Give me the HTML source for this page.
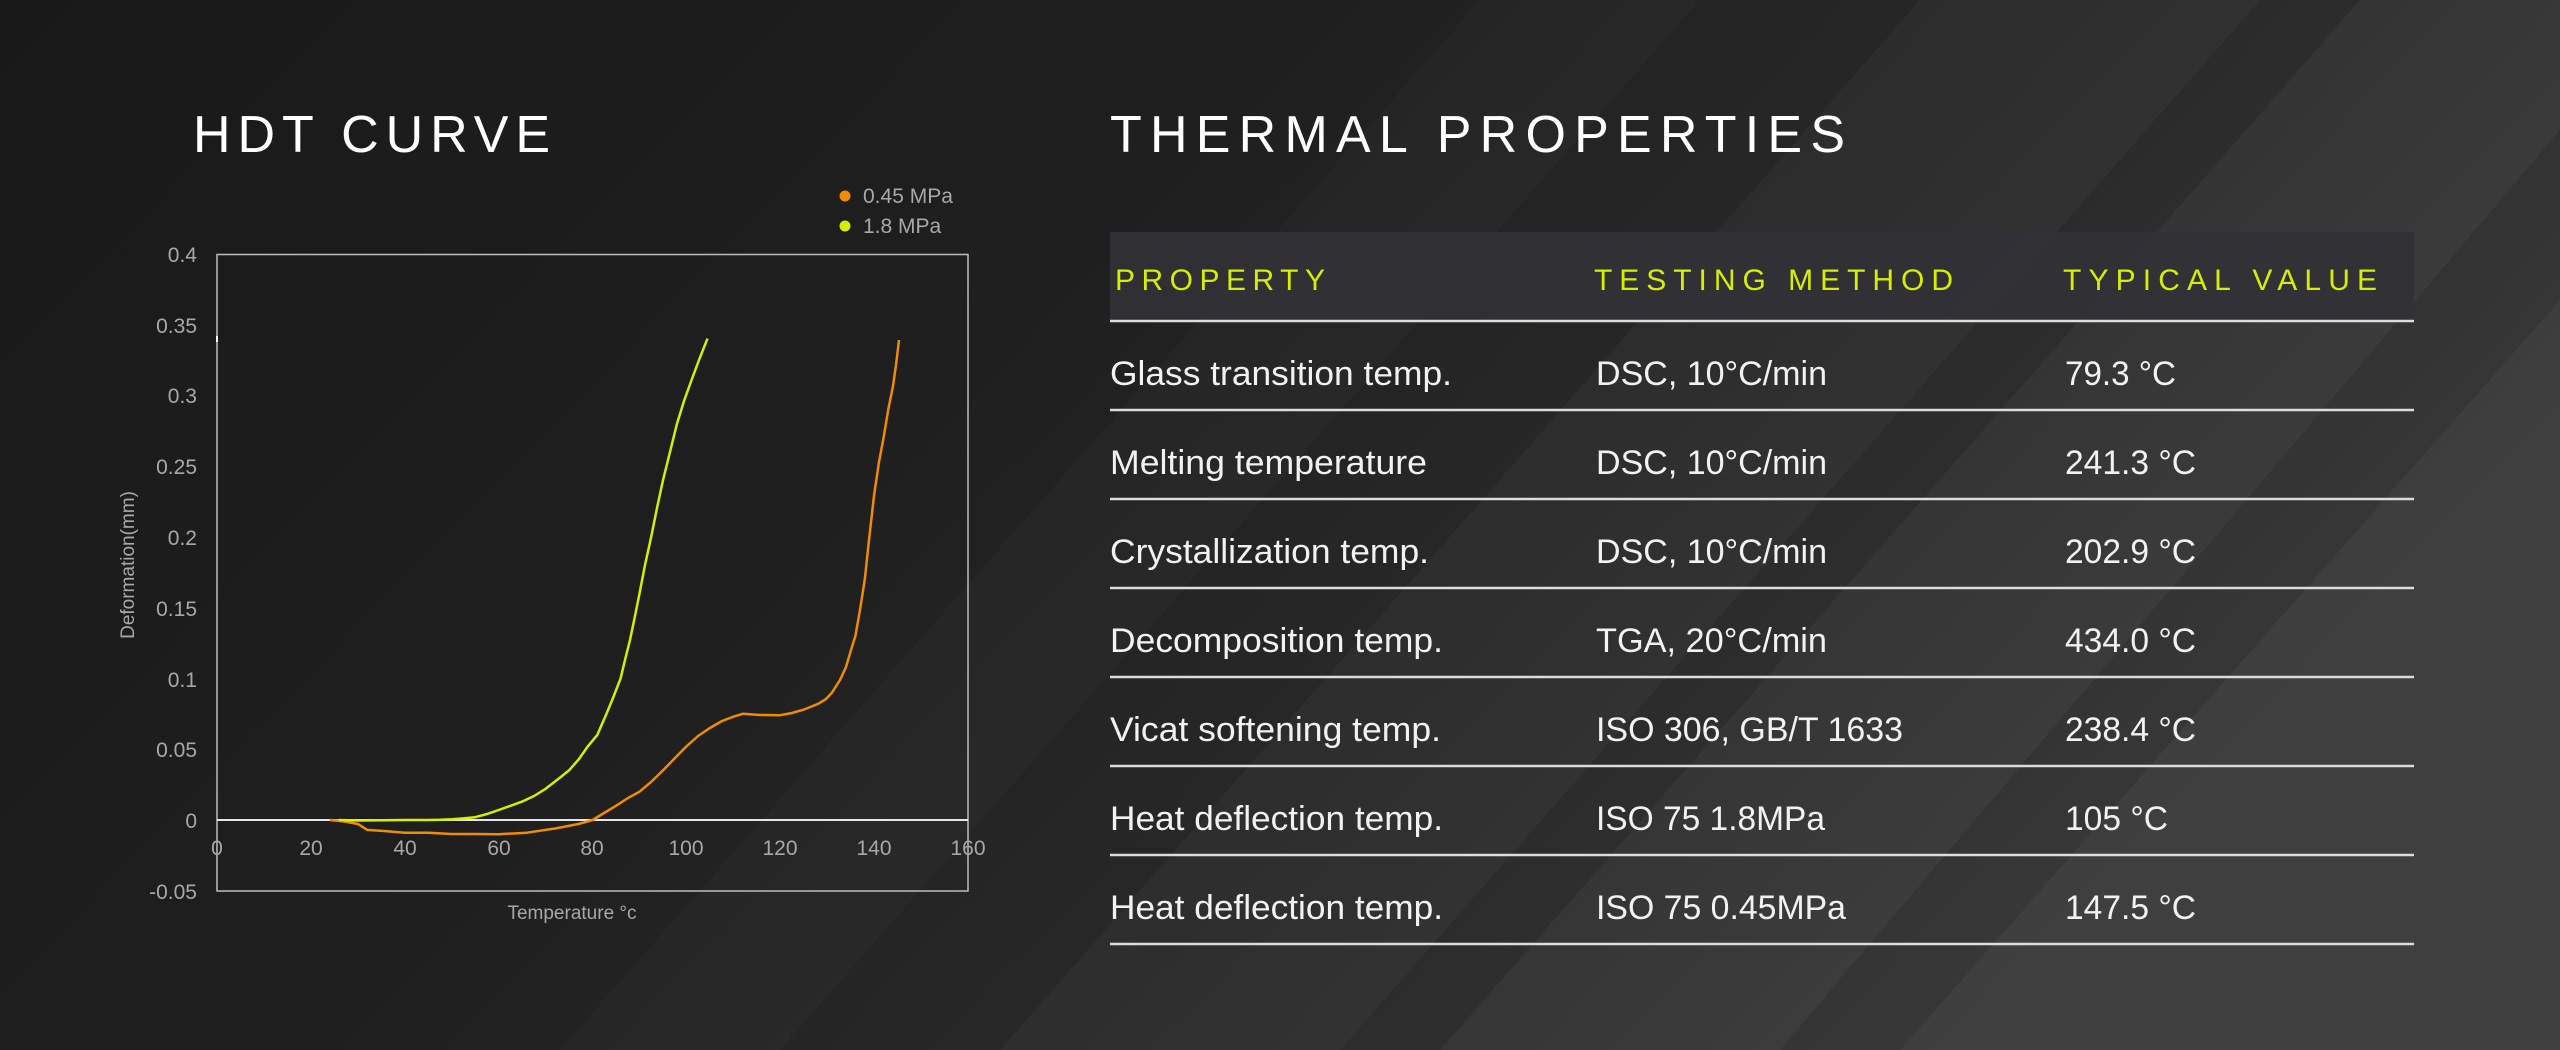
<!DOCTYPE html>
<html><head><meta charset="utf-8"><style>
html,body{margin:0;padding:0;background:#1c1c1c;}
svg{display:block;}
</style></head><body>
<svg width="2560" height="1050" viewBox="0 0 2560 1050" xmlns="http://www.w3.org/2000/svg" font-family="'Liberation Sans', sans-serif">
<defs>
<linearGradient id="bg" x1="0" y1="0" x2="1" y2="0.4">
<stop offset="0" stop-color="#191919"/>
<stop offset="0.45" stop-color="#1f1f1f"/>
<stop offset="0.75" stop-color="#2a2a2a"/>
<stop offset="1" stop-color="#383838"/>
</linearGradient>
</defs>
<rect width="2560" height="1050" fill="url(#bg)"/>
<g fill="#ffffff">
<polygon points="560,1050 1480,0 1700,0 780,1050" opacity="0.02"/>
<polygon points="1000,1050 1920,0 2260,0 1340,1050" opacity="0.03"/>
<polygon points="1440,1050 2360,0 2560,0 2560,130 1780,1050" opacity="0.035"/>
<polygon points="1900,1050 2560,300 2560,1050" opacity="0.04"/>
</g>

<text x="193" y="152" font-size="52" fill="#ffffff" textLength="357" lengthAdjust="spacing">HDT CURVE</text>
<text x="1110" y="152" font-size="52" fill="#ffffff" textLength="735" lengthAdjust="spacing">THERMAL PROPERTIES</text>

<circle cx="845" cy="196" r="5.5" fill="#f08c00"/>
<text x="863" y="203" font-size="21" fill="#a8a8a8">0.45 MPa</text>
<circle cx="845" cy="226" r="5.5" fill="#d4ef00"/>
<text x="863" y="233" font-size="21" fill="#a8a8a8">1.8 MPa</text>

<rect x="217" y="254.5" width="751" height="636.5" fill="none" stroke="#bdbdbd" stroke-width="1.5"/>
<line x1="217" y1="820" x2="968" y2="820" stroke="#e6e6e6" stroke-width="2"/>
<line x1="217" y1="336" x2="217" y2="342" stroke="#ffffff" stroke-width="2"/>

<g font-size="21" fill="#a8a8a8" text-anchor="end">
<text x="197" y="262">0.4</text>
<text x="197" y="333">0.35</text>
<text x="197" y="403">0.3</text>
<text x="197" y="474">0.25</text>
<text x="197" y="545">0.2</text>
<text x="197" y="616">0.15</text>
<text x="197" y="687">0.1</text>
<text x="197" y="757">0.05</text>
<text x="197" y="828">0</text>
<text x="197" y="899">-0.05</text>
</g>
<g font-size="21" fill="#a8a8a8" text-anchor="middle">
<text x="217" y="855">0</text>
<text x="311" y="855">20</text>
<text x="405" y="855">40</text>
<text x="499" y="855">60</text>
<text x="592" y="855">80</text>
<text x="686" y="855">100</text>
<text x="780" y="855">120</text>
<text x="874" y="855">140</text>
<text x="968" y="855">160</text>
</g>
<text x="572" y="919" font-size="19" fill="#a8a8a8" text-anchor="middle">Temperature  °c</text>
<text transform="translate(134,565) rotate(-90)" font-size="19" fill="#a8a8a8" text-anchor="middle">Deformation(mm)</text>

<polyline fill="none" stroke="#f08c00" stroke-width="2.5" stroke-linejoin="round" points="
329.7,820 343.8,821.4 358,824 367.3,829.9 380,830.7 404.8,832.7 428.3,832.7 451.7,834 475.2,834 498.7,834.2 526.9,832.7 555,828.5 578.5,824 592.6,820 604,813 616,805.8 628,798 639.5,791.7 651,782 663,770.4 675,758 686.4,746.4 698,736 709.9,728 722,721 733.4,716.7 742.8,713.8 760,715 780.3,715.2 792,713 803.8,709.6 818,703.9 826,699 832,692.6 840,680 846,667 851,650 855.4,636 860,610 864.8,579.2 869,540 874.2,494.2 879,462 883.6,437.6 888.3,409.3 892.9,386.6 896,365 899,340"/>
<polyline fill="none" stroke="#d4ef00" stroke-width="2.5" stroke-linejoin="round" points="
339,820 358,820.5 382,820.3 405,820 428.3,820 440,819.8 451.7,819.3 463,818.4 475.2,817.2 487,814 498.7,810 510,806 522.1,801.6 534,796 545.6,788.8 557,780 569,770.4 579,759 587.8,746.4 597.2,735.1 606.5,713.8 613,698 620.6,678.4 625,660 630,640 635,616 639.5,593.5 645,565 651.2,536.8 657,508 663,480.2 670,452 677,423.6 684,401 691.2,381 699,360 707.5,338.6"/>

<rect x="1110" y="232" width="1304" height="89" fill="#313136" opacity="0.92"/>
<g font-size="30" fill="#d4ef00">
<text x="1115" y="290" textLength="210" lengthAdjust="spacing">PROPERTY</text>
<text x="1594" y="290" textLength="359" lengthAdjust="spacing">TESTING METHOD</text>
<text x="2063" y="290" textLength="314" lengthAdjust="spacing">TYPICAL VALUE</text>
</g>
<g stroke="#dcdcdc" stroke-width="2.5">
<line x1="1110" y1="321" x2="2414" y2="321"/>
<line x1="1110" y1="410" x2="2414" y2="410"/>
<line x1="1110" y1="499" x2="2414" y2="499"/>
<line x1="1110" y1="588" x2="2414" y2="588"/>
<line x1="1110" y1="677" x2="2414" y2="677"/>
<line x1="1110" y1="766" x2="2414" y2="766"/>
<line x1="1110" y1="855" x2="2414" y2="855"/>
<line x1="1110" y1="944" x2="2414" y2="944"/>
</g>
<g font-size="34" fill="#f2f2f2">
<text x="1110" y="385" textLength="342" lengthAdjust="spacingAndGlyphs">Glass transition temp.</text>
<text x="1596" y="385" textLength="231" lengthAdjust="spacingAndGlyphs">DSC, 10°C/min</text>
<text x="2065" y="385" textLength="111" lengthAdjust="spacingAndGlyphs">79.3 °C</text>

<text x="1110" y="474" textLength="317" lengthAdjust="spacingAndGlyphs">Melting temperature</text>
<text x="1596" y="474" textLength="231" lengthAdjust="spacingAndGlyphs">DSC, 10°C/min</text>
<text x="2065" y="474" textLength="131" lengthAdjust="spacingAndGlyphs">241.3 °C</text>

<text x="1110" y="563" textLength="319" lengthAdjust="spacingAndGlyphs">Crystallization temp.</text>
<text x="1596" y="563" textLength="231" lengthAdjust="spacingAndGlyphs">DSC, 10°C/min</text>
<text x="2065" y="563" textLength="131" lengthAdjust="spacingAndGlyphs">202.9 °C</text>

<text x="1110" y="652" textLength="333" lengthAdjust="spacingAndGlyphs">Decomposition temp.</text>
<text x="1596" y="652" textLength="231" lengthAdjust="spacingAndGlyphs">TGA, 20°C/min</text>
<text x="2065" y="652" textLength="131" lengthAdjust="spacingAndGlyphs">434.0 °C</text>

<text x="1110" y="741" textLength="331" lengthAdjust="spacingAndGlyphs">Vicat softening temp.</text>
<text x="1596" y="741" textLength="307" lengthAdjust="spacingAndGlyphs">ISO 306, GB/T 1633</text>
<text x="2065" y="741" textLength="131" lengthAdjust="spacingAndGlyphs">238.4 °C</text>

<text x="1110" y="830" textLength="333" lengthAdjust="spacingAndGlyphs">Heat deflection temp.</text>
<text x="1596" y="830" textLength="229" lengthAdjust="spacingAndGlyphs">ISO 75 1.8MPa</text>
<text x="2065" y="830" textLength="103" lengthAdjust="spacingAndGlyphs">105 °C</text>

<text x="1110" y="919" textLength="333" lengthAdjust="spacingAndGlyphs">Heat deflection temp.</text>
<text x="1596" y="919" textLength="250" lengthAdjust="spacingAndGlyphs">ISO 75 0.45MPa</text>
<text x="2065" y="919" textLength="131" lengthAdjust="spacingAndGlyphs">147.5 °C</text>
</g>
</svg>
</body></html>
